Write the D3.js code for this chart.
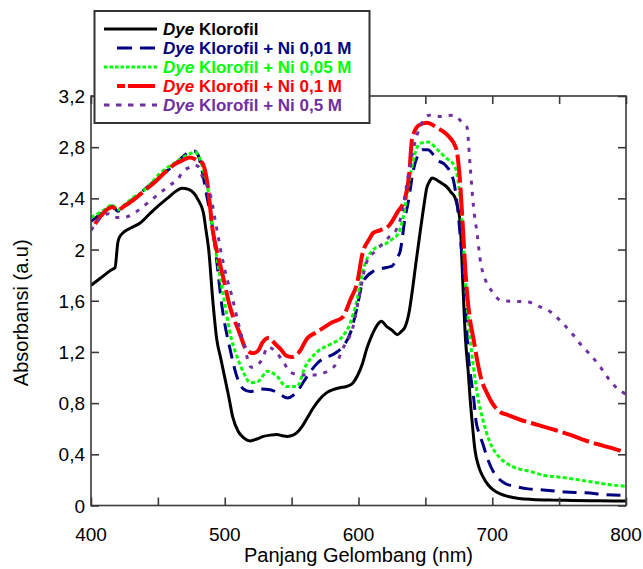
<!DOCTYPE html>
<html>
<head>
<meta charset="utf-8">
<script src="https://cdn.jsdelivr.net/npm/d3@7"></script>
<style>
  html, body { margin: 0; padding: 0; background: #fff; }
  svg { display: block; font-family: "Liberation Sans", Arial, sans-serif; }
</style>
</head>
<body>
<svg id="chart" width="643" height="569"></svg>
<script>
// ---------------- DATA ----------------
const xTicksMajor = [400, 500, 600, 700, 800];
const xTicksAll = [400, 450, 500, 550, 600, 650, 700, 750, 800];
const yTicks = [0, 0.4, 0.8, 1.2, 1.6, 2.0, 2.4, 2.8, 3.2];
const yTickLabels = ["0", "0,4", "0,8", "1,2", "1,6", "2", "2,4", "2,8", "3,2"];
const seriesNames = ["Klorofil", "Klorofil + Ni 0,01 M", "Klorofil + Ni 0,05 M", "Klorofil + Ni 0,1 M", "Klorofil + Ni 0,5 M"];

// Dye Klorofil
const wlDye = [400,405,410,415,418,420,421,425,430,437,443,449,457,464,468,473,477,480,484,486,488,491,494,497,499,503,506,510,514,519,524,529,534,539,543,547,551,554,558,562,566,571,576,581,586,591,596,599,603,606,610,614,617,621,625,629,632,635,638,640,643,646,649,651,653,655,659,662,666,669,672,674,676,678,680,682,683.5,685,687,690,693,697,701,706,712,720,730,745,760,780,800];
const absDye = [1.72,1.76,1.80,1.84,1.86,2.05,2.09,2.14,2.17,2.21,2.27,2.33,2.40,2.46,2.48,2.47,2.44,2.39,2.29,2.15,2.0,1.61,1.30,1.15,1.05,0.85,0.69,0.58,0.53,0.505,0.52,0.54,0.55,0.555,0.545,0.54,0.55,0.57,0.62,0.69,0.76,0.83,0.88,0.905,0.92,0.93,0.96,1.01,1.11,1.22,1.33,1.41,1.44,1.40,1.37,1.335,1.36,1.40,1.52,1.66,1.90,2.13,2.35,2.48,2.53,2.56,2.54,2.52,2.49,2.45,2.41,2.34,2.21,1.74,1.30,1.05,0.83,0.65,0.44,0.30,0.226,0.16,0.12,0.09,0.07,0.055,0.047,0.042,0.04,0.037,0.035];

// Dye Klorofil + Ni 0,01 M
const wlNi001 = [400,405,410,416,420,425,432,440,448,455,462,468,473,477,480,483,486,490,493,498,504,510,514,519,526,534,541,547,551,554,561,569,574,581,588,594,599,603,611,621,625,629,631,635,637,641,645,648,652,656,659,665,671,674,677.5,680,682,684,686,688,690,693,696,700,704,710,717,727,740,755,770,785,800];
const absNi001 = [2.22,2.26,2.30,2.34,2.30,2.34,2.40,2.47,2.54,2.60,2.66,2.72,2.76,2.77,2.74,2.62,2.45,2.23,2.0,1.55,1.22,0.98,0.91,0.89,0.91,0.905,0.87,0.84,0.86,0.89,1.0,1.11,1.15,1.18,1.24,1.35,1.55,1.74,1.83,1.86,1.87,1.94,1.98,2.26,2.36,2.62,2.75,2.78,2.78,2.74,2.70,2.66,2.54,2.33,1.92,1.55,1.19,1.0,0.85,0.65,0.57,0.48,0.38,0.28,0.22,0.17,0.15,0.13,0.12,0.105,0.10,0.085,0.08];

// Dye Klorofil + Ni 0,05 M
const wlNi005 = [400,405,410,416,420,425,432,437,445,452,460,466,474,478,481,484,487.5,491,495,499,505,510,514,519,525,532,539,546,554,560,569,579,588,594,599,603,611,621,625,630,633,637,641,646,652,659,665,672,675,678,680,683,686,689,693,698,702,706,716,727,739,752,765,777,790,800];
const absNi005 = [2.25,2.28,2.31,2.35,2.31,2.35,2.41,2.44,2.52,2.60,2.66,2.70,2.75,2.76,2.72,2.62,2.47,2.15,1.88,1.64,1.30,1.14,1.04,0.96,0.97,1.05,1.01,0.93,0.93,1.08,1.20,1.26,1.32,1.43,1.61,1.82,2.0,2.05,2.08,2.13,2.23,2.47,2.70,2.83,2.84,2.78,2.72,2.65,2.49,2.13,1.74,1.35,1.08,0.86,0.67,0.50,0.42,0.37,0.30,0.27,0.235,0.22,0.20,0.18,0.16,0.15];

// Dye Klorofil + Ni 0,1 M
const wlNi01 = [403,408,413,416,420,425,432,440,448,455,463,469,474,479,483,487,491,495,498,504,511,516,521,525,528,533,538,542,546,550,555,562,568,574,580,588,594,599,603,608,611,616,623,629,635,638,640,645,651,659,666,673,676,678,680,683,686,689,692,696,700,706,711,721,734,747,759,772,782,795,800];
const absNi01 = [2.20,2.27,2.32,2.33,2.31,2.34,2.39,2.46,2.53,2.60,2.67,2.70,2.72,2.70,2.68,2.52,2.15,1.95,1.82,1.55,1.35,1.22,1.19,1.21,1.27,1.31,1.26,1.22,1.17,1.16,1.19,1.31,1.35,1.39,1.43,1.47,1.61,1.74,1.97,2.08,2.13,2.15,2.19,2.29,2.41,2.60,2.86,2.97,2.99,2.95,2.90,2.79,2.52,2.18,1.82,1.48,1.30,1.12,0.98,0.88,0.80,0.73,0.71,0.67,0.63,0.59,0.55,0.50,0.47,0.43,0.41];

// Dye Klorofil + Ni 0,5 M
const wlNi05 = [400,404,408,413,418,424,430,437,443,449,455,460,465,468,473,477,480,484,489,493,498,502,505,510,514,520,528,532,539,544,549,558,566,577,584,588,596,601,606,614,623,628,633,637,642,648,653,661,671,677,681,683.5,686,688.6,691,695,700,707,727,734,744,753,760,766,774,781,787,794,800];
const absNi05 = [2.15,2.21,2.26,2.28,2.25,2.25,2.27,2.32,2.37,2.42,2.47,2.51,2.55,2.60,2.64,2.66,2.65,2.55,2.44,2.22,1.94,1.76,1.65,1.43,1.27,1.08,1.14,1.24,1.19,1.12,1.04,1.02,1.02,1.05,1.12,1.22,1.40,1.66,1.90,2.0,2.10,2.15,2.31,2.57,2.83,3.0,3.05,3.04,3.05,3.0,2.96,2.65,2.33,2.13,1.92,1.76,1.67,1.60,1.59,1.56,1.51,1.42,1.34,1.26,1.17,1.08,0.99,0.91,0.87];

// ---------------- CHART ----------------
const svg = d3.select("#chart");
const L = 91, R = 626, T = 96, B = 505.5;
const x = d3.scaleLinear().domain([400, 800]).range([L, R]);
const y = d3.scaleLinear().domain([0, 3.2]).range([B, T]);

const series = [
  {wl: wlDye,   a: absDye,   color: "#000000", width: 3,   dash: null,     ldash: null,     lx0: 104, loff: 0},
  {wl: wlNi001, a: absNi001, color: "#000080", width: 3,   dash: "14,8",   ldash: "15,8",   lx0: 117, loff: 0},
  {wl: wlNi005, a: absNi005, color: "#00ff00", width: 3,   dash: "4,2.5",  ldash: "3.5,2",  lx0: 104, loff: 0},
  {wl: wlNi01,  a: absNi01,  color: "#ff0000", width: 4,   dash: "28,5",   ldash: "27,3",   lx0: 117, loff: 19},
  {wl: wlNi05,  a: absNi05,  color: "#7030a0", width: 3,   dash: "4,7",    ldash: "5.5,6.5",lx0: 104, loff: 0}
];

svg.append("defs").append("clipPath").attr("id", "plotclip")
  .append("rect").attr("x", L).attr("y", T).attr("width", R - L).attr("height", B - T);

const line = d3.line().x(d => x(d[0])).y(d => y(d[1])).curve(d3.curveMonotoneX);

const g = svg.append("g").attr("clip-path", "url(#plotclip)");
series.forEach(s => {
  const pts = s.wl.map((w, i) => [w, s.a[i]]);
  g.append("path").datum(pts)
    .attr("d", line)
    .attr("fill", "none")
    .attr("stroke", s.color)
    .attr("stroke-width", s.width)
    .attr("stroke-dasharray", s.dash)
    .attr("stroke-linejoin", "round");
});

// frame
const axisColor = "#3a3a3a";
svg.append("rect").attr("x", L).attr("y", T).attr("width", R - L).attr("height", B - T)
  .attr("fill", "none").attr("stroke", axisColor).attr("stroke-width", 1.6);

// axes with inward ticks
const xBottom = d3.axisBottom(x).tickValues(xTicksAll).tickSize(-8).tickFormat("");
const xTop = d3.axisTop(x).tickValues(xTicksAll).tickSize(-8).tickFormat("");
const yLeft = d3.axisLeft(y).tickValues(yTicks).tickSize(-8).tickFormat("");
const yRight = d3.axisRight(y).tickValues(yTicks).tickSize(-8).tickFormat("");

function styleAxis(sel) {
  sel.select(".domain").remove();
  sel.selectAll(".tick line").attr("stroke", axisColor).attr("stroke-width", 1.6);
}
svg.append("g").attr("transform", `translate(0,${B})`).call(xBottom).call(styleAxis);
svg.append("g").attr("transform", `translate(0,${T})`).call(xTop).call(styleAxis);
svg.append("g").attr("transform", `translate(${L},0)`).call(yLeft).call(styleAxis);
svg.append("g").attr("transform", `translate(${R},0)`).call(yRight).call(styleAxis);

// tick labels
svg.append("g").selectAll("text").data(xTicksMajor).join("text")
  .attr("x", d => x(d)).attr("y", 541)
  .attr("text-anchor", "middle").attr("font-size", 19).attr("fill", "#000")
  .text(d => d);
svg.append("g").selectAll("text").data(yTicks).join("text")
  .attr("x", 85).attr("y", d => y(d) + 7)
  .attr("text-anchor", "end").attr("font-size", 19).attr("fill", "#000")
  .text((d, i) => yTickLabels[i]);

// axis titles
svg.append("text").attr("x", (L + R) / 2).attr("y", 562)
  .attr("text-anchor", "middle").attr("font-size", 20).attr("fill", "#000")
  .text("Panjang Gelombang (nm)");
svg.append("text").attr("transform", `translate(28,${(T + B) / 2 + 12}) rotate(-90)`)
  .attr("text-anchor", "middle").attr("font-size", 20).attr("fill", "#000")
  .text("Absorbansi (a.u)");

// legend
const lg = svg.append("g");
lg.append("rect").attr("x", 94.5).attr("y", 11).attr("width", 275).attr("height", 112)
  .attr("fill", "#fff").attr("stroke", "#333").attr("stroke-width", 2);
const rowY = [29, 48, 67, 86, 105];
series.forEach((s, i) => {
  lg.append("line").attr("x1", s.lx0).attr("x2", 157).attr("y1", rowY[i]).attr("y2", rowY[i])
    .attr("stroke", s.color).attr("stroke-width", s.width)
    .attr("stroke-dasharray", s.ldash).attr("stroke-dashoffset", s.loff);
  const t = lg.append("text").attr("x", 163).attr("y", rowY[i] + 6)
    .attr("font-size", 17).attr("font-weight", "bold").attr("fill", s.color);
  t.append("tspan").attr("font-style", "italic").text("Dye");
  t.append("tspan").text(" " + seriesNames[i]);
});
</script>
</body>
</html>
